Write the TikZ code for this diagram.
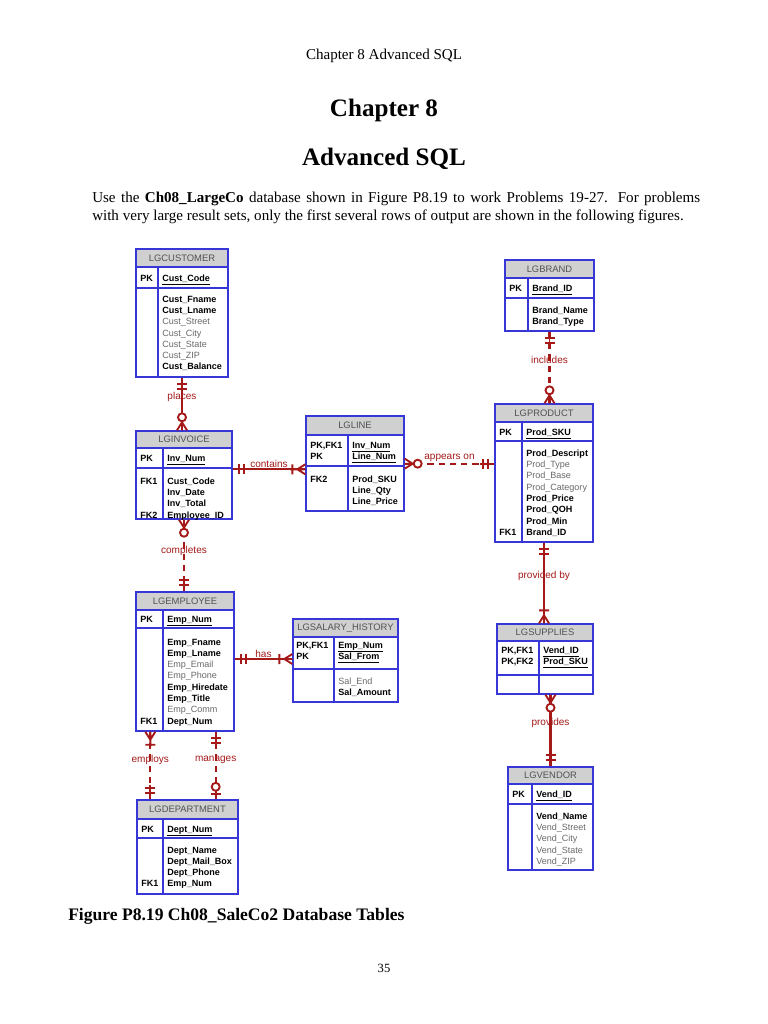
\documentclass[tikz,border=0pt]{standalone}
\usepackage{fontspec}
\setmainfont{Liberation Serif}
\newfontfamily\erfont{Liberation Sans}
\usetikzlibrary{positioning, fit, calc}
\definecolor{erblue}{RGB}{55,55,215}
\definecolor{ertitle}{RGB}{208,208,208}
\definecolor{erred}{RGB}{165,25,25}
\definecolor{eropt}{RGB}{105,105,105}
\newcommand{\req}[1]{\textbf{#1}}
\newcommand{\opt}[1]{\textcolor{eropt}{#1}}
\newcommand{\pkey}[1]{\underline{\textbf{#1}}}
\tikzset{
  tabtitle/.style={rectangle, draw=erblue, fill=ertitle, line width=1.1pt, inner sep=0pt},
  tabname/.style={inner sep=0pt, text=black!68, font=\erfont\fontsize{7.5}{9}\selectfont},
  tabsec/.style={rectangle, draw=erblue, fill=white, line width=1.1pt, inner sep=0pt},
  tabrule/.style={draw=erblue, line width=1.1pt},
  fld/.style={anchor=north west, inner sep=0pt, align=left, font=\erfont\fontsize{7.2}{9}\selectfont},
  rel/.style={draw=erred, line width=1.7pt},
  nonid/.style={rel, dash pattern=on 5pt off 4pt},
  relmark/.style={draw=erred, line width=1.5pt},
  rlabel/.style={text=erred, inner sep=0.5pt, font=\erfont\fontsize{8}{9}\selectfont},
  one only/.pic={\draw[relmark] (0,0) -- (14,0) (6,-5) -- (6,5) (11,-5) -- (11,5);},
  zero one/.pic={\draw[relmark] (0,0) -- (9,0) (5,-5) -- (5,5); \draw[relmark, fill=white] (12.5,0) circle[radius=4];},
  one many/.pic={\draw[relmark] (0,-5) -- (8,0) -- (0,5) (0,0) -- (15,0) (13,-5) -- (13,5);},
  zero many/.pic={\draw[relmark] (0,-5) -- (8,0) -- (0,5) (0,0) -- (9,0); \draw[relmark, fill=white] (13,0) circle[radius=4];}
}
\begin{document}
\begin{tikzpicture}[x=0.796875pt, y=-0.796875pt]
\useasboundingbox (0,0) rectangle (768,1024);
\fill[white] (0,0) rectangle (768,1024);

% Page text
\node[anchor=base, font=\fontsize{12}{14}\selectfont] (hdr) at (384,60) {Chapter 8 Advanced SQL};
\node[anchor=base, font=\bfseries\fontsize{20}{24}\selectfont] (chap) at (384,116) {Chapter 8};
\node[anchor=base, font=\bfseries\fontsize{20}{24}\selectfont] (ttl) at (384,165) {Advanced SQL};
\node[anchor=north west, inner sep=0pt, text width=484.5pt, align=justify, font=\fontsize{12}{14.3}\selectfont] (intro) at (92,191.5)
  {Use the \textbf{Ch08\_LargeCo} database shown in Figure P8.19 to work Problems 19-27. For problems\linebreak with very large result sets, only the first several rows of output are shown in the following figures.};
\node[anchor=base west, inner sep=0pt, font=\bfseries\fontsize{14}{16}\selectfont] (cap) at (68,920) {Figure P8.19 Ch08\_SaleCo2 Database Tables};
\node[anchor=base, font=\fontsize{10}{12}\selectfont] (pgno) at (384,972) {35};

% LGCUSTOMER
\node[tabtitle, fit={(136,249) (228,267)}] (cus) {};
\node[tabname] (cus-n) at (cus.center) {LGCUSTOMER};
\node[tabsec, fit={(136,267) (228,288)}] (cus-k) {};
\node[tabsec, fit={(136,288) (228,377)}] (cus-b) {};
\draw[tabrule] (158,267) -- (158,377);
\node[fld] (cus-kc) at (140,274.6) {\req{PK}};
\node[fld] (cus-kf) at (162,274.6) {\pkey{Cust\_Code}};
\node[fld] (cus-f) at (162,295.6) {\req{Cust\_Fname}\\\req{Cust\_Lname}\\\opt{Cust\_Street}\\\opt{Cust\_City}\\\opt{Cust\_State}\\\opt{Cust\_ZIP}\\\req{Cust\_Balance}};

% LGINVOICE
\node[tabtitle, fit={(136,431) (232,448)}] (inv) {};
\node[tabname] (inv-n) at (inv.center) {LGINVOICE};
\node[tabsec, fit={(136,448) (232,468)}] (inv-k) {};
\node[tabsec, fit={(136,468) (232,519)}] (inv-b) {};
\draw[tabrule] (163,448) -- (163,519);
\node[fld] (inv-kc) at (140,454.6) {\req{PK}};
\node[fld] (inv-kf) at (167,454.6) {\pkey{Inv\_Num}};
\node[fld] (inv-fk1) at (140,477.6) {\req{FK1}};
\node[fld] (inv-fk2) at (140,511.5) {\req{FK2}};
\node[fld] (inv-f) at (167,477.6) {\req{Cust\_Code}\\\req{Inv\_Date}\\\req{Inv\_Total}\\\req{Employee\_ID}};

% LGLINE
\node[tabtitle, fit={(306,416) (404,435)}] (lin) {};
\node[tabname] (lin-n) at (lin.center) {LGLINE};
\node[tabsec, fit={(306,435) (404,466)}] (lin-k) {};
\node[tabsec, fit={(306,466) (404,511)}] (lin-b) {};
\draw[tabrule] (348,435) -- (348,511);
\node[fld] (lin-kc) at (310,441.6) {\req{PK,FK1}\\\req{PK}};
\node[fld] (lin-kf) at (352,441.6) {\pkey{Inv\_Num}\\\pkey{Line\_Num}};
\node[fld] (lin-fk2) at (310,475.6) {\req{FK2}};
\node[fld] (lin-f) at (352,475.6) {\req{Prod\_SKU}\\\req{Line\_Qty}\\\req{Line\_Price}};

% LGBRAND
\node[tabtitle, fit={(505,260) (594,278)}] (brd) {};
\node[tabname] (brd-n) at (brd.center) {LGBRAND};
\node[tabsec, fit={(505,278) (594,298)}] (brd-k) {};
\node[tabsec, fit={(505,298) (594,331)}] (brd-b) {};
\draw[tabrule] (528,278) -- (528,331);
\node[fld] (brd-kc) at (509,284.6) {\req{PK}};
\node[fld] (brd-kf) at (532,284.6) {\pkey{Brand\_ID}};
\node[fld] (brd-f) at (532,306.6) {\req{Brand\_Name}\\\req{Brand\_Type}};

% LGPRODUCT
\node[tabtitle, fit={(495,404) (593,422)}] (prd) {};
\node[tabname] (prd-n) at (prd.center) {LGPRODUCT};
\node[tabsec, fit={(495,422) (593,441)}] (prd-k) {};
\node[tabsec, fit={(495,441) (593,542)}] (prd-b) {};
\draw[tabrule] (522,422) -- (522,542);
\node[fld] (prd-kc) at (499,428.6) {\req{PK}};
\node[fld] (prd-kf) at (526,428.6) {\pkey{Prod\_SKU}};
\node[fld] (prd-fk1) at (499,528.6) {\req{FK1}};
\node[fld] (prd-f) at (526,449.6) {\req{Prod\_Descript}\\\opt{Prod\_Type}\\\opt{Prod\_Base}\\\opt{Prod\_Category}\\\req{Prod\_Price}\\\req{Prod\_QOH}\\\req{Prod\_Min}\\\req{Brand\_ID}};

% LGEMPLOYEE
\node[tabtitle, fit={(136,592) (234,610)}] (emp) {};
\node[tabname] (emp-n) at (emp.center) {LGEMPLOYEE};
\node[tabsec, fit={(136,610) (234,628)}] (emp-k) {};
\node[tabsec, fit={(136,628) (234,731)}] (emp-b) {};
\draw[tabrule] (163,610) -- (163,731);
\node[fld] (emp-kc) at (140,615.6) {\req{PK}};
\node[fld] (emp-kf) at (167,615.6) {\pkey{Emp\_Num}};
\node[fld] (emp-fk1) at (140,717.6) {\req{FK1}};
\node[fld] (emp-f) at (167,638.6) {\req{Emp\_Fname}\\\req{Emp\_Lname}\\\opt{Emp\_Email}\\\opt{Emp\_Phone}\\\req{Emp\_Hiredate}\\\req{Emp\_Title}\\\opt{Emp\_Comm}\\\req{Dept\_Num}};

% LGSALARY_HISTORY
\node[tabtitle, fit={(293,619) (398,637)}] (sal) {};
\node[tabname] (sal-n) at (sal.center) {LGSALARY\_HISTORY};
\node[tabsec, fit={(293,637) (398,669)}] (sal-k) {};
\node[tabsec, fit={(293,669) (398,702)}] (sal-b) {};
\draw[tabrule] (334,637) -- (334,702);
\node[fld] (sal-kc) at (296,641.6) {\req{PK,FK1}\\\req{PK}};
\node[fld] (sal-kf) at (338,641.6) {\pkey{Emp\_Num}\\\pkey{Sal\_From}};
\node[fld] (sal-f) at (338,677.6) {\opt{Sal\_End}\\\req{Sal\_Amount}};

% LGDEPARTMENT
\node[tabtitle, fit={(137,800) (238,819)}] (dep) {};
\node[tabname] (dep-n) at (dep.center) {LGDEPARTMENT};
\node[tabsec, fit={(137,819) (238,838)}] (dep-k) {};
\node[tabsec, fit={(137,838) (238,894)}] (dep-b) {};
\draw[tabrule] (163,819) -- (163,894);
\node[fld] (dep-kc) at (141,825.6) {\req{PK}};
\node[fld] (dep-kf) at (167,825.6) {\pkey{Dept\_Num}};
\node[fld] (dep-fk1) at (141,880.5) {\req{FK1}};
\node[fld] (dep-f) at (167,846.6) {\req{Dept\_Name}\\\req{Dept\_Mail\_Box}\\\req{Dept\_Phone}\\\req{Emp\_Num}};

% LGSUPPLIES
\node[tabtitle, fit={(497,624) (593,641)}] (sup) {};
\node[tabname] (sup-n) at (sup.center) {LGSUPPLIES};
\node[tabsec, fit={(497,641) (593,675)}] (sup-k) {};
\node[tabsec, fit={(497,675) (593,694)}] (sup-b) {};
\draw[tabrule] (539,641) -- (539,694);
\node[fld] (sup-kc) at (501,646.6) {\req{PK,FK1}\\\req{PK,FK2}};
\node[fld] (sup-kf) at (543,646.6) {\pkey{Vend\_ID}\\\pkey{Prod\_SKU}};

% LGVENDOR
\node[tabtitle, fit={(508,767) (593,784)}] (ven) {};
\node[tabname] (ven-n) at (ven.center) {LGVENDOR};
\node[tabsec, fit={(508,784) (593,804)}] (ven-k) {};
\node[tabsec, fit={(508,804) (593,870)}] (ven-b) {};
\draw[tabrule] (532,784) -- (532,870);
\node[fld] (ven-kc) at (512,790.6) {\req{PK}};
\node[fld] (ven-kf) at (536,790.6) {\pkey{Vend\_ID}};
\node[fld] (ven-f) at (536,812.6) {\req{Vend\_Name}\\\opt{Vend\_Street}\\\opt{Vend\_City}\\\opt{Vend\_State}\\\opt{Vend\_ZIP}};

% Relationships
\coordinate (cnt) at ($(lin-b.north west)+(0,4)$);
\coordinate (apr) at ($(lin-k.south east)+(0,-3)$);
\coordinate (hs) at ($(sal-k.west)+(0,6)$);
\coordinate (emps) at ($(emp-b.south west)+(15,0)$);
\coordinate (mgs) at ($(emp-b.south east)+(-19,0)$);

\draw[rel] (cus-b.south) -- node[rlabel, pos=0.37] (l-plc) {places} (cus-b.south |- inv.north);
\draw[rel] (cnt -| inv-b.east) -- node[rlabel, above] (l-cnt) {contains} (cnt);
\draw[nonid] (apr) -- node[rlabel, above] (l-apr) {appears on} (apr -| prd-b.west);
\draw[nonid] (brd-b.south) -- node[rlabel, pos=0.4] (l-inc) {includes} (brd-b.south |- prd.north);
\draw[nonid] (inv-b.south) -- node[rlabel, pos=0.44] (l-cmp) {completes} (inv-b.south |- emp.north);
\draw[rel] (hs -| emp-b.east) -- node[rlabel, above] (l-has) {has} (hs);
\draw[nonid] (emps) -- node[rlabel, pos=0.41] (l-emps) {employs} (emps |- dep.north);
\draw[nonid] (mgs) -- node[rlabel, pos=0.41] (l-mgs) {manages} (mgs |- dep.north);
\draw[rel] (prd-b.south) -- node[rlabel, pos=0.41] (l-pvb) {provided by} (prd-b.south |- sup.north);
\draw[rel] (ven.north |- sup-b.south) -- node[rlabel, pos=0.4] (l-pvs) {provides} (ven.north);

% Cardinality marks
\pic[rotate=-90] at (cus-b.south) {one only};
\pic[rotate=90] at (cus-b.south |- inv.north) {zero many};
\pic at (cnt -| inv-b.east) {one only};
\pic[rotate=180] at (cnt) {one many};
\pic at (apr) {zero many};
\pic[rotate=180] at (apr -| prd-b.west) {one only};
\pic[rotate=-90] at (brd-b.south) {one only};
\pic[rotate=90] at (brd-b.south |- prd.north) {zero many};
\pic[rotate=-90] at (inv-b.south) {zero many};
\pic[rotate=90] at (inv-b.south |- emp.north) {one only};
\pic at (hs -| emp-b.east) {one only};
\pic[rotate=180] at (hs) {one many};
\pic[rotate=-90] at (emps) {one many};
\pic[rotate=90] at (emps |- dep.north) {one only};
\pic[rotate=-90] at (mgs) {one only};
\pic[rotate=90] at (mgs |- dep.north) {zero one};
\pic[rotate=-90] at (prd-b.south) {one only};
\pic[rotate=90] at (prd-b.south |- sup.north) {one many};
\pic[rotate=-90] at (ven.north |- sup-b.south) {zero many};
\pic[rotate=90] at (ven.north) {one only};
\end{tikzpicture}
\end{document}
